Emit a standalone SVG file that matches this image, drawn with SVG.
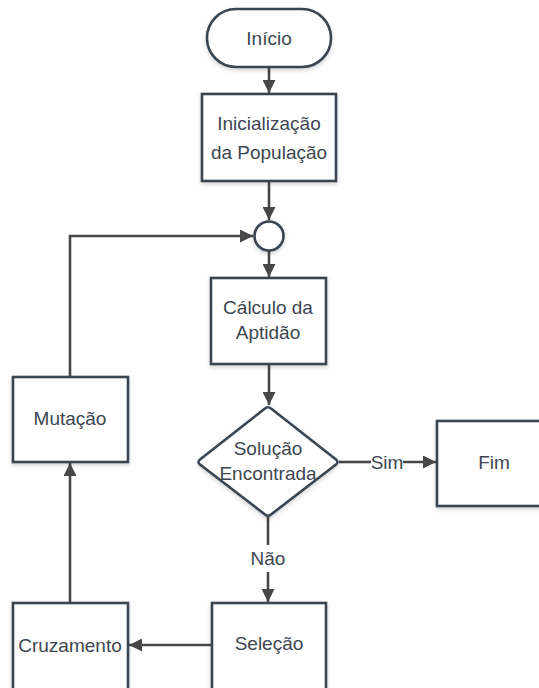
<svg xmlns="http://www.w3.org/2000/svg" width="539" height="688" viewBox="0 0 539 688">
  <style>
    .shape { fill: #ffffff; stroke: #3a4450; stroke-width: 2.6; filter: url(#shadow); }
    .label { font-family: "Liberation Sans", Arial, sans-serif; font-size: 19px; fill: #3d4651; text-anchor: middle; dominant-baseline: central; }
    .edge { fill: none; stroke: #474747; stroke-width: 2.6; }
    .edge-label { font-family: "Liberation Sans", Arial, sans-serif; font-size: 19px; fill: #3d4651; text-anchor: middle; dominant-baseline: central; }
  </style>
  <defs>
    <filter id="shadow" x="-20%" y="-20%" width="140%" height="140%">
      <feDropShadow dx="0" dy="2" stdDeviation="2" flood-color="#000000" flood-opacity="0.18"/>
    </filter>
    <marker id="arrow" viewBox="0 0 10 10" refX="10" refY="5" markerWidth="5" markerHeight="5" markerUnits="strokeWidth" orient="auto">
      <path d="M0,0 L10,5 L0,10 Z" fill="#474747"/>
    </marker>
  </defs>

  <rect width="539" height="688" fill="#ffffff"/>

  <!-- connectors -->
  <g id="connectors">
    <line class="edge" x1="269" y1="67" x2="269" y2="93" marker-end="url(#arrow)"/>
    <line class="edge" x1="269" y1="181" x2="269" y2="220" marker-end="url(#arrow)"/>
    <line class="edge" x1="269" y1="251" x2="269" y2="277" marker-end="url(#arrow)"/>
    <line class="edge" x1="269" y1="364" x2="269" y2="405" marker-end="url(#arrow)"/>
    <!-- Sim branch -->
    <line class="edge" x1="339" y1="462" x2="371" y2="462"/>
    <line class="edge" x1="403" y1="462" x2="436" y2="462" marker-end="url(#arrow)"/>
    <text class="edge-label" x="387" y="462">Sim</text>
    <!-- Não branch -->
    <line class="edge" x1="268" y1="517" x2="268" y2="545"/>
    <line class="edge" x1="268" y1="572" x2="268" y2="602" marker-end="url(#arrow)"/>
    <text class="edge-label" x="268" y="558">Não</text>
    <!-- Seleção to Cruzamento -->
    <line class="edge" x1="212" y1="645" x2="129" y2="645" marker-end="url(#arrow)"/>
    <!-- Cruzamento to Mutação -->
    <line class="edge" x1="70" y1="603" x2="70" y2="463" marker-end="url(#arrow)"/>
    <!-- Mutação back to the junction -->
    <polyline class="edge" points="70,377 70,236 253,236" marker-end="url(#arrow)"/>
  </g>

  <g id="inicio">
    <rect class="shape" x="207" y="9" width="124" height="58" rx="29" ry="29"/>
    <text class="label" x="269" y="38">Início</text>
  </g>

  <g id="inicializacao">
    <rect class="shape" x="202" y="94" width="134" height="87"/>
    <text class="label" x="269" y="123">Inicialização</text>
    <text class="label" x="269" y="152">da População</text>
  </g>

  <g id="juncao">
    <circle class="shape" cx="269" cy="236" r="14.5"/>
  </g>

  <g id="calculo">
    <rect class="shape" x="211" y="278" width="115" height="86"/>
    <text class="label" x="268" y="307">Cálculo da</text>
    <text class="label" x="268" y="332">Aptidão</text>
  </g>

  <g id="decisao">
    <path class="shape" d="M265,408.5 Q268,406 271,408.5 L336,459.5 Q339,462 336,464.5 L271,514.5 Q268,517 265,514.5 L200,464.5 Q197,462 200,459.5 Z"/>
    <text class="label" x="268" y="448">Solução</text>
    <text class="label" x="268" y="473">Encontrada</text>
  </g>

  <g id="fim">
    <rect class="shape" x="437" y="421" width="114" height="85"/>
    <text class="label" x="494" y="462">Fim</text>
  </g>

  <g id="selecao">
    <rect class="shape" x="212" y="603" width="114" height="95"/>
    <text class="label" x="269" y="643">Seleção</text>
  </g>

  <g id="cruzamento">
    <rect class="shape" x="13" y="603" width="115" height="95"/>
    <text class="label" x="70" y="645">Cruzamento</text>
  </g>

  <g id="mutacao">
    <rect class="shape" x="13" y="377" width="115" height="85"/>
    <text class="label" x="70" y="418">Mutação</text>
  </g>
</svg>
